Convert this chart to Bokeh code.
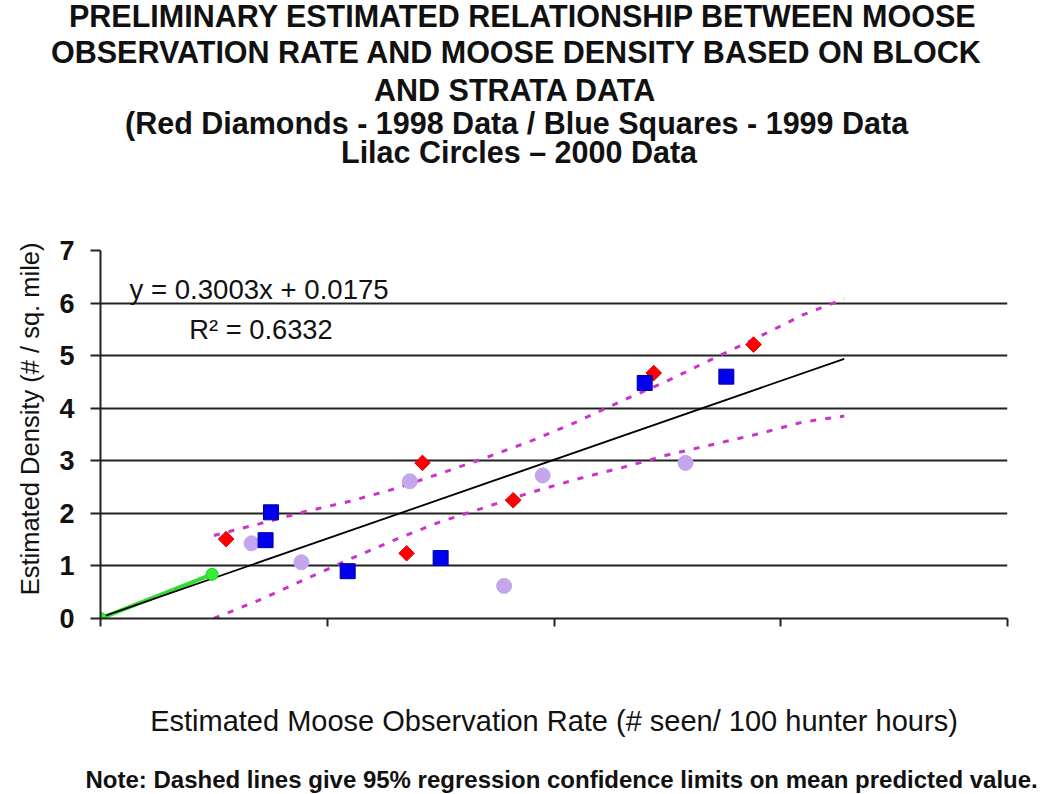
import math
from bokeh.plotting import figure
from bokeh.models import Range1d, FixedTicker, Label, Title, LinearAxis
from bokeh.embed import file_html
from bokeh.resources import INLINE

# ---------------- data ----------------
red_x = [2.77, 6.75, 7.10, 9.10, 12.20, 14.40]      # 1998 data (red diamonds)
red_y = [1.51, 1.24, 2.96, 2.25, 4.67, 5.21]

blue_x = [3.64, 3.76, 5.45, 7.50, 12.00, 13.80]     # 1999 data (blue squares)
blue_y = [1.49, 2.02, 0.90, 1.15, 4.48, 4.60]

lilac_x = [3.33, 4.43, 6.82, 8.90, 9.75, 12.90]     # 2000 data (lilac circles)
lilac_y = [1.43, 1.07, 2.61, 0.62, 2.72, 2.96]

green_x = [0.0, 2.46]
green_y = [0.0, 0.84]

reg_x = [0.0, 16.4]                                 # y = 0.3003x + 0.0175
reg_y = [0.02, 4.94]

band_x = [2.5, 3.5, 4.5, 5.5, 6.5, 7.5, 8.5, 9.5, 10.5, 11.5, 12.5, 13.5, 14.5, 15.5, 16.4]
band_upper = [1.58, 1.80, 2.03, 2.23, 2.47, 2.76, 3.06, 3.38, 3.74, 4.14, 4.52, 4.94, 5.35, 5.78, 6.08]
band_lower = [0.00, 0.35, 0.74, 1.13, 1.50, 1.84, 2.12, 2.40, 2.65, 2.87, 3.11, 3.31, 3.51, 3.74, 3.85]

x_ticks = [0, 5, 10, 15, 20]
y_ticks = [0, 1, 2, 3, 4, 5, 6, 7]

title_lines = [
    "PRELIMINARY ESTIMATED RELATIONSHIP BETWEEN MOOSE",
    "OBSERVATION RATE AND MOOSE DENSITY BASED ON BLOCK",
    "AND STRATA DATA",
    "(Red Diamonds - 1998 Data / Blue Squares - 1999 Data",
    "Lilac Circles \u2013 2000 Data",
]
x_label = "Estimated Moose Observation Rate (# seen/ 100 hunter hours)"
y_label = "Estimated Density (# / sq. mile)"
note = "Note: Dashed lines give 95% regression confidence limits on mean predicted value."
eq_text = "y = 0.3003x + 0.0175"
r2_text = "R\u00b2 = 0.6332"

# ---------------- layout ----------------
W, H = 1046, 793
FL, FT, FW, FH = 98, 250, 909, 368   # frame in figure pixels

p = figure(width=W, height=H, x_range=Range1d(0, 20), y_range=Range1d(0, 7),
           output_backend="svg", toolbar_location=None, title=None,
           min_border_left=FL, min_border_right=W - FL - FW,
           min_border_top=FT, min_border_bottom=H - FT - FH)
p.outline_line_color = None
p.background_fill_color = "white"
p.border_fill_color = "white"

FONT = "Liberation Sans"
INK = "#111111"
AX = "#222222"

# x axis (no tick labels) with its label
p.xaxis.ticker = FixedTicker(ticks=x_ticks)
p.xaxis.major_label_overrides = {t: "" for t in x_ticks}
p.xaxis.major_label_text_font_size = "0px"
p.xaxis.major_label_standoff = 0
p.xaxis.axis_line_width = 2
p.xaxis.axis_line_color = AX
p.xaxis.major_tick_out = 8
p.xaxis.major_tick_in = 0
p.xaxis.major_tick_line_width = 2
p.xaxis.major_tick_line_color = AX
p.xaxis.minor_tick_line_color = None
p.xaxis.axis_label = x_label
p.xaxis.axis_label_text_font = FONT
p.xaxis.axis_label_text_font_style = "normal"
p.xaxis.axis_label_text_font_size = "29px"
p.xaxis.axis_label_text_color = INK
p.xaxis.axis_label_standoff = 78

# bare spacer axis below the x axis, then the note as a bottom title
spacer_axis = LinearAxis(ticker=FixedTicker(ticks=[]), axis_line_color=None,
                         major_tick_line_color=None, minor_tick_line_color=None,
                         major_tick_out=0, major_tick_in=0, minor_tick_out=0,
                         major_label_text_font_size="0px", major_label_standoff=0,
                         axis_label=" ", axis_label_text_font=FONT,
                         axis_label_text_font_size="19px", axis_label_standoff=0)
p.add_layout(spacer_axis, "below")
p.add_layout(Title(text=note, align="left", offset=-15, standoff=0,
                   text_font=FONT, text_font_style="bold", text_font_size="24px",
                   text_color=INK), "below")

# y axis
p.yaxis.ticker = FixedTicker(ticks=y_ticks)
p.yaxis.axis_line_width = 2
p.yaxis.axis_line_color = AX
p.yaxis.major_tick_out = 10
p.yaxis.major_tick_in = 0
p.yaxis.major_tick_line_width = 2
p.yaxis.major_tick_line_color = AX
p.yaxis.minor_tick_line_color = None
p.yaxis.major_label_text_font = FONT
p.yaxis.major_label_text_font_style = "bold"
p.yaxis.major_label_text_font_size = "27px"
p.yaxis.major_label_text_color = INK
p.yaxis.major_label_standoff = 16

# y label as a side title (lets it sit off-centre like the reference)
p.add_layout(Title(text=y_label, align="right", offset=-8, standoff=26,
                   text_font=FONT, text_font_style="normal", text_font_size="25.5px",
                   text_color=INK), "left")

p.xgrid.visible = False
p.ygrid.ticker = FixedTicker(ticks=y_ticks)
p.ygrid.grid_line_color = AX
p.ygrid.grid_line_width = 2

# ---------------- titles (first added sits closest to the plot) ----------------
title_kw = dict(text_font=FONT, text_font_style="bold", text_font_size="30.5px", text_color=INK)
p.add_layout(Title(text=" ", align="left", standoff=54, **title_kw), "above")   # spacer
title_standoffs = [-8, 9, -6, 1, -16]
title_offsets = [-31.5, -49.5, 273.5, 24.5, 240.5]
for txt, so, off in reversed(list(zip(title_lines, title_standoffs, title_offsets))):
    p.add_layout(Title(text=txt, align="left", offset=off, standoff=so, **title_kw), "above")

# ---------------- marks ----------------
p.line(band_x, band_upper, line_color="#CC33CC", line_width=3, line_dash="6 9")
p.line(band_x, band_lower, line_color="#CC33CC", line_width=3, line_dash="6 9")

p.line(green_x, green_y, line_color="#33DD33", line_width=4)
p.line(reg_x, reg_y, line_color="black", line_width=1.8)
p.scatter(green_x, green_y, marker="circle", size=12, fill_color="#33EE33", line_color="#22CC22")

p.scatter(lilac_x, lilac_y, marker="circle", size=15, fill_color="#C4A6EC", line_color="#C4A6EC")
p.scatter(red_x, red_y, marker="square", angle=math.pi / 4, size=11,
          fill_color="#FF0000", line_color="#DD0000")
p.scatter(blue_x, blue_y, marker="square", size=15, fill_color="#0000EE", line_color="#000099")

# ---------------- equation texts (positions given in page pixels) ----------------
def xd(px):
    return (px - FL) / FW * 20.0

def yd(py):
    return (FT + FH - py) / FH * 7.0

p.add_layout(Label(x=xd(127), y=yd(289), text=eq_text, text_font=FONT,
                   text_font_size="27.6px", text_align="left", text_baseline="alphabetic",
                   text_color=INK))
p.add_layout(Label(x=xd(187), y=yd(328.5), text=r2_text, text_font=FONT,
                   text_font_size="27.3px", text_align="left", text_baseline="alphabetic",
                   text_color=INK))

open("out.html", "w").write(file_html(p, INLINE))
